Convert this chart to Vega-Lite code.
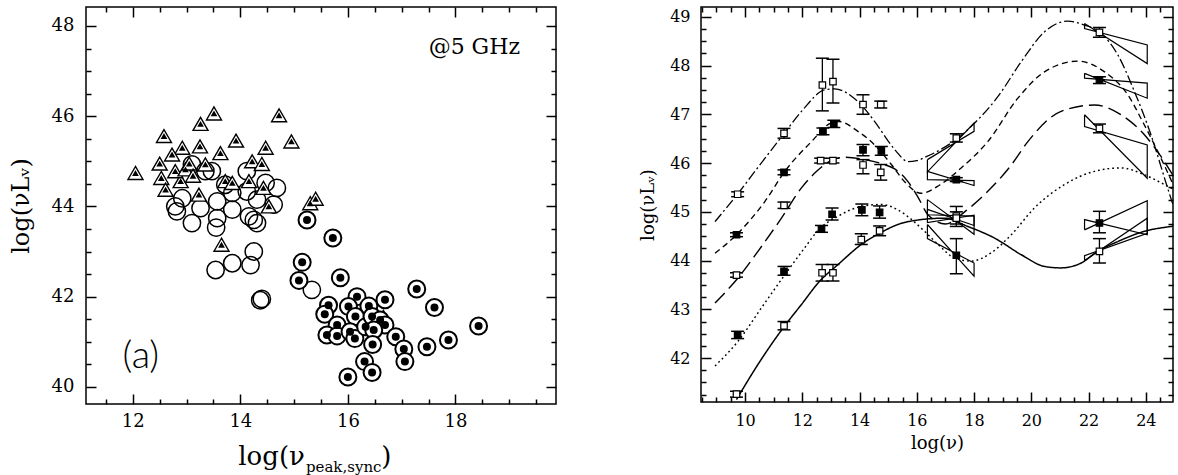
{
"$schema": "https://vega.github.io/schema/vega-lite/v6.json",
"padding": {"left": 8, "top": 5, "right": 0, "bottom": 0},
"background": "white",
"spacing": 80,
"config": {
  "view": {"stroke": "black", "strokeWidth": 1.5},
  "axis": {"domain": false, "grid": false, "tickColor": "black", "tickWidth": 1.5, "labelColor": "black", "titleColor": "black", "labelFont": "DejaVu Serif", "titleFont": "DejaVu Serif", "titleFontWeight": "normal", "labelOverlap": false}
},
"datasets": {
  "tri": [{"x":12.05,"y":44.74},{"x":12.58,"y":45.56},{"x":12.50,"y":44.95},{"x":13.26,"y":45.83},{"x":13.51,"y":46.06},{"x":13.25,"y":45.33},{"x":12.92,"y":45.30},{"x":12.73,"y":45.15},{"x":13.63,"y":45.18},{"x":13.92,"y":45.46},{"x":14.47,"y":45.30},{"x":14.72,"y":46.02},{"x":14.95,"y":45.44},{"x":14.22,"y":45.00},{"x":14.40,"y":44.94},{"x":12.53,"y":44.63},{"x":12.61,"y":44.37},{"x":12.89,"y":44.56},{"x":13.35,"y":44.93},{"x":13.23,"y":44.26},{"x":13.72,"y":44.56},{"x":13.85,"y":44.52},{"x":14.16,"y":44.56},{"x":14.43,"y":44.41},{"x":14.53,"y":44.00},{"x":15.30,"y":44.07},{"x":15.40,"y":44.17},{"x":12.79,"y":44.78},{"x":12.98,"y":44.82},{"x":13.65,"y":43.15},{"x":13.05,"y":44.95},{"x":13.12,"y":44.68},{"x":16.52,"y":41.60},{"x":16.66,"y":41.55}],
  "circ": [{"x":13.10,"y":44.93},{"x":13.47,"y":44.78},{"x":12.92,"y":44.18},{"x":12.82,"y":43.89},{"x":13.10,"y":43.63},{"x":13.26,"y":43.96},{"x":13.57,"y":44.11},{"x":13.57,"y":43.74},{"x":13.55,"y":43.53},{"x":13.85,"y":43.93},{"x":13.85,"y":44.30},{"x":13.72,"y":44.48},{"x":14.12,"y":44.78},{"x":14.12,"y":44.33},{"x":14.31,"y":44.15},{"x":14.16,"y":43.78},{"x":14.25,"y":43.70},{"x":14.31,"y":43.63},{"x":14.47,"y":44.52},{"x":14.68,"y":44.41},{"x":14.62,"y":44.04},{"x":12.79,"y":44.00},{"x":13.35,"y":44.78},{"x":13.54,"y":42.59},{"x":13.85,"y":42.74},{"x":14.19,"y":42.70},{"x":14.25,"y":43.00},{"x":14.37,"y":41.92},{"x":14.40,"y":41.95},{"x":15.33,"y":42.15}],
  "dot": [{"x":15.24,"y":43.70},{"x":15.72,"y":43.30},{"x":15.15,"y":42.76},{"x":15.09,"y":42.36},{"x":15.86,"y":42.42},{"x":17.28,"y":42.17},{"x":17.61,"y":41.76},{"x":17.87,"y":41.04},{"x":17.47,"y":40.89},{"x":16.17,"y":42.00},{"x":16.69,"y":41.93},{"x":15.64,"y":41.81},{"x":15.57,"y":41.61},{"x":16.01,"y":41.78},{"x":16.39,"y":41.79},{"x":16.14,"y":41.56},{"x":15.80,"y":41.37},{"x":15.61,"y":41.15},{"x":15.80,"y":41.13},{"x":16.04,"y":41.22},{"x":16.13,"y":41.07},{"x":16.33,"y":41.33},{"x":16.45,"y":41.56},{"x":16.60,"y":41.48},{"x":16.69,"y":41.37},{"x":16.48,"y":41.26},{"x":16.46,"y":40.94},{"x":16.89,"y":41.11},{"x":17.04,"y":40.84},{"x":17.06,"y":40.56},{"x":16.31,"y":40.56},{"x":16.45,"y":40.32},{"x":16.00,"y":40.22},{"x":18.43,"y":41.35}],
  "curves": [
    {"c":"c1","x":8.95,"y":44.80},{"c":"c1","x":9.76,"y":45.38},{"c":"c1","x":10.5,"y":45.95},{"c":"c1","x":11.33,"y":46.58},{"c":"c1","x":12.0,"y":47.08},{"c":"c1","x":12.78,"y":47.50},{"c":"c1","x":13.13,"y":47.52},{"c":"c1","x":13.94,"y":47.26},{"c":"c1","x":14.53,"y":46.85},{"c":"c1","x":15.0,"y":46.45},{"c":"c1","x":15.28,"y":46.24},{"c":"c1","x":15.69,"y":46.03},{"c":"c1","x":16.0,"y":46.05},{"c":"c1","x":16.33,"y":46.13},{"c":"c1","x":16.9,"y":46.30},{"c":"c1","x":17.43,"y":46.51},{"c":"c1","x":18.02,"y":46.82},{"c":"c1","x":18.83,"y":47.36},{"c":"c1","x":19.65,"y":48.08},{"c":"c1","x":20.46,"y":48.69},{"c":"c1","x":21.27,"y":48.91},{"c":"c1","x":21.86,"y":48.83},{"c":"c1","x":22.44,"y":48.66},{"c":"c1","x":23.02,"y":48.22},{"c":"c1","x":23.60,"y":47.47},{"c":"c1","x":24.18,"y":46.58},{"c":"c1","x":24.76,"y":45.49},{"c":"c1","x":25.0,"y":45.05},
    {"c":"c2","x":8.95,"y":44.15},{"c":"c2","x":9.7,"y":44.53},{"c":"c2","x":10.69,"y":45.21},{"c":"c2","x":11.39,"y":45.83},{"c":"c2","x":12.32,"y":46.44},{"c":"c2","x":13.0,"y":46.82},{"c":"c2","x":13.3,"y":46.85},{"c":"c2","x":13.94,"y":46.65},{"c":"c2","x":14.53,"y":46.37},{"c":"c2","x":15.11,"y":45.97},{"c":"c2","x":15.6,"y":45.60},{"c":"c2","x":16.15,"y":45.38},{"c":"c2","x":16.8,"y":45.55},{"c":"c2","x":17.55,"y":45.90},{"c":"c2","x":18.48,"y":46.44},{"c":"c2","x":19.53,"y":47.33},{"c":"c2","x":20.46,"y":47.87},{"c":"c2","x":21.62,"y":48.09},{"c":"c2","x":22.56,"y":47.87},{"c":"c2","x":23.37,"y":47.40},{"c":"c2","x":23.95,"y":46.78},{"c":"c2","x":24.53,"y":46.10},{"c":"c2","x":25.0,"y":45.50},
    {"c":"c3","x":8.95,"y":43.13},{"c":"c3","x":9.76,"y":43.65},{"c":"c3","x":10.45,"y":44.19},{"c":"c3","x":11.27,"y":44.87},{"c":"c3","x":11.97,"y":45.49},{"c":"c3","x":12.5,"y":45.83},{"c":"c3","x":13.0,"y":46.05},{"c":"c3","x":13.5,"y":46.12},{"c":"c3","x":14.2,"y":46.07},{"c":"c3","x":14.8,"y":45.98},{"c":"c3","x":15.3,"y":45.85},{"c":"c3","x":15.69,"y":45.62},{"c":"c3","x":16.04,"y":45.30},{"c":"c3","x":16.39,"y":44.94},{"c":"c3","x":17.0,"y":44.75},{"c":"c3","x":17.67,"y":45.00},{"c":"c3","x":18.48,"y":45.42},{"c":"c3","x":19.30,"y":45.96},{"c":"c3","x":19.88,"y":46.44},{"c":"c3","x":21.04,"y":47.06},{"c":"c3","x":22.21,"y":47.19},{"c":"c3","x":23.14,"y":46.99},{"c":"c3","x":23.95,"y":46.58},{"c":"c3","x":24.65,"y":46.03},{"c":"c3","x":25.0,"y":45.70},
    {"c":"c4","x":8.95,"y":41.84},{"c":"c4","x":9.76,"y":42.35},{"c":"c4","x":10.57,"y":43.03},{"c":"c4","x":11.39,"y":43.71},{"c":"c4","x":12.08,"y":44.26},{"c":"c4","x":12.55,"y":44.62},{"c":"c4","x":13.25,"y":44.91},{"c":"c4","x":14.06,"y":45.11},{"c":"c4","x":14.76,"y":45.15},{"c":"c4","x":15.34,"y":45.04},{"c":"c4","x":15.8,"y":44.85},{"c":"c4","x":16.27,"y":44.60},{"c":"c4","x":16.8,"y":44.30},{"c":"c4","x":17.32,"y":44.05},{"c":"c4","x":17.9,"y":43.99},{"c":"c4","x":18.6,"y":44.16},{"c":"c4","x":19.3,"y":44.53},{"c":"c4","x":20.11,"y":45.08},{"c":"c4","x":21.16,"y":45.56},{"c":"c4","x":22.21,"y":45.83},{"c":"c4","x":23.14,"y":45.90},{"c":"c4","x":23.95,"y":45.76},{"c":"c4","x":24.65,"y":45.56},{"c":"c4","x":25.0,"y":45.45},
    {"c":"c5","x":9.7,"y":41.15},{"c":"c5","x":10.45,"y":41.87},{"c":"c5","x":11.33,"y":42.62},{"c":"c5","x":11.97,"y":43.10},{"c":"c5","x":12.61,"y":43.58},{"c":"c5","x":13.25,"y":43.92},{"c":"c5","x":14.06,"y":44.33},{"c":"c5","x":14.76,"y":44.58},{"c":"c5","x":15.34,"y":44.74},{"c":"c5","x":16.15,"y":44.84},{"c":"c5","x":16.97,"y":44.87},{"c":"c5","x":17.78,"y":44.70},{"c":"c5","x":18.72,"y":44.46},{"c":"c5","x":19.65,"y":44.12},{"c":"c5","x":20.46,"y":43.88},{"c":"c5","x":21.04,"y":43.85},{"c":"c5","x":21.74,"y":43.95},{"c":"c5","x":22.32,"y":44.19},{"c":"c5","x":23.02,"y":44.39},{"c":"c5","x":23.95,"y":44.60},{"c":"c5","x":24.88,"y":44.70},{"c":"c5","x":25.0,"y":44.71}
  ],
  "bow": [
    {"b":"x1","o":1,"x":16.37,"y":46.07},{"b":"x1","o":2,"x":18.0,"y":46.65},{"b":"x1","o":3,"x":18.0,"y":46.82},{"b":"x1","o":4,"x":16.37,"y":45.82},{"b":"x1","o":5,"x":16.37,"y":46.07},
    {"b":"x2","o":1,"x":16.37,"y":45.83},{"b":"x2","o":2,"x":18.0,"y":45.54},{"b":"x2","o":3,"x":18.0,"y":45.64},{"b":"x2","o":4,"x":16.37,"y":45.66},{"b":"x2","o":5,"x":16.37,"y":45.83},
    {"b":"x3","o":1,"x":16.37,"y":45.25},{"b":"x3","o":2,"x":18.0,"y":44.54},{"b":"x3","o":3,"x":18.0,"y":44.91},{"b":"x3","o":4,"x":16.37,"y":44.94},{"b":"x3","o":5,"x":16.37,"y":45.25},
    {"b":"x4","o":1,"x":16.37,"y":44.74},{"b":"x4","o":2,"x":18.0,"y":43.68},{"b":"x4","o":3,"x":18.0,"y":43.95},{"b":"x4","o":4,"x":16.37,"y":44.45},{"b":"x4","o":5,"x":16.37,"y":44.74},
    {"b":"x5","o":1,"x":16.37,"y":45.05},{"b":"x5","o":2,"x":18.0,"y":44.72},{"b":"x5","o":3,"x":18.0,"y":44.93},{"b":"x5","o":4,"x":16.37,"y":44.78},{"b":"x5","o":5,"x":16.37,"y":45.05},
    {"b":"g1","o":1,"x":21.86,"y":48.86},{"b":"g1","o":2,"x":24.05,"y":48.04},{"b":"g1","o":3,"x":24.05,"y":48.42},{"b":"g1","o":4,"x":21.86,"y":48.76},{"b":"g1","o":5,"x":21.86,"y":48.86},
    {"b":"g2","o":1,"x":21.86,"y":47.84},{"b":"g2","o":2,"x":24.05,"y":47.33},{"b":"g2","o":3,"x":24.05,"y":47.64},{"b":"g2","o":4,"x":21.86,"y":47.74},{"b":"g2","o":5,"x":21.86,"y":47.84},
    {"b":"g3","o":1,"x":21.86,"y":46.99},{"b":"g3","o":2,"x":24.05,"y":45.69},{"b":"g3","o":3,"x":24.05,"y":46.37},{"b":"g3","o":4,"x":21.86,"y":46.75},{"b":"g3","o":5,"x":21.86,"y":46.99},
    {"b":"g4","o":1,"x":21.86,"y":44.63},{"b":"g4","o":2,"x":24.05,"y":45.23},{"b":"g4","o":3,"x":24.05,"y":44.53},{"b":"g4","o":4,"x":21.86,"y":44.84},{"b":"g4","o":5,"x":21.86,"y":44.63},
    {"b":"g5","o":1,"x":21.86,"y":44.00},{"b":"g5","o":2,"x":24.05,"y":44.87},{"b":"g5","o":3,"x":24.05,"y":44.56},{"b":"g5","o":4,"x":21.86,"y":44.10},{"b":"g5","o":5,"x":21.86,"y":44.00}
  ],
  "pts": [
    {"f":"o","x":9.74,"y":45.36,"lo":45.31,"hi":45.41},{"f":"o","x":11.36,"y":46.61,"lo":46.51,"hi":46.71},{"f":"o","x":12.70,"y":47.60,"lo":47.07,"hi":48.15},{"f":"o","x":13.07,"y":47.67,"lo":47.23,"hi":48.13},{"f":"o","x":14.12,"y":47.20,"lo":47.00,"hi":47.40},{"f":"o","x":14.74,"y":47.20,"lo":47.13,"hi":47.27},{"f":"o","x":17.38,"y":46.51,"lo":46.43,"hi":46.60},{"f":"o","x":22.38,"y":48.68,"lo":48.58,"hi":48.78},
    {"f":"o","x":9.70,"y":43.70,"lo":43.66,"hi":43.75},{"f":"o","x":11.36,"y":45.13,"lo":45.07,"hi":45.20},{"f":"o","x":12.64,"y":46.05,"lo":46.00,"hi":46.10},{"f":"o","x":13.07,"y":46.05,"lo":46.00,"hi":46.10},{"f":"o","x":14.12,"y":45.96,"lo":45.78,"hi":46.07},{"f":"o","x":14.74,"y":45.81,"lo":45.65,"hi":45.97},{"f":"o","x":17.38,"y":44.91,"lo":44.70,"hi":45.11},{"f":"o","x":22.38,"y":46.71,"lo":46.62,"hi":46.80},
    {"f":"o","x":9.70,"y":41.26,"lo":41.20,"hi":41.32},{"f":"o","x":11.36,"y":42.66,"lo":42.58,"hi":42.75},{"f":"o","x":12.69,"y":43.75,"lo":43.58,"hi":43.92},{"f":"o","x":13.07,"y":43.75,"lo":43.58,"hi":43.92},{"f":"o","x":14.06,"y":44.43,"lo":44.33,"hi":44.55},{"f":"o","x":14.70,"y":44.61,"lo":44.51,"hi":44.71},{"f":"o","x":17.38,"y":44.87,"lo":44.75,"hi":45.00},{"f":"o","x":22.38,"y":44.19,"lo":43.95,"hi":44.45},
    {"f":"f","x":9.70,"y":44.53,"lo":44.49,"hi":44.57},{"f":"f","x":11.36,"y":45.81,"lo":45.76,"hi":45.86},{"f":"f","x":12.72,"y":46.65,"lo":46.58,"hi":46.72},{"f":"f","x":13.10,"y":46.80,"lo":46.73,"hi":46.88},{"f":"f","x":14.12,"y":46.27,"lo":46.15,"hi":46.38},{"f":"f","x":14.76,"y":46.25,"lo":46.16,"hi":46.34},{"f":"f","x":17.38,"y":45.66,"lo":45.62,"hi":45.70},{"f":"f","x":22.38,"y":47.70,"lo":47.63,"hi":47.77},
    {"f":"f","x":9.74,"y":42.47,"lo":42.40,"hi":42.55},{"f":"f","x":11.36,"y":43.78,"lo":43.70,"hi":43.88},{"f":"f","x":12.67,"y":44.65,"lo":44.58,"hi":44.72},{"f":"f","x":13.04,"y":44.95,"lo":44.83,"hi":45.08},{"f":"f","x":14.08,"y":45.04,"lo":44.92,"hi":45.16},{"f":"f","x":14.70,"y":44.99,"lo":44.87,"hi":45.12},{"f":"f","x":17.38,"y":44.11,"lo":43.73,"hi":44.45},{"f":"f","x":22.38,"y":44.77,"lo":44.57,"hi":45.01}
  ]
},
"hconcat": [
  {
    "width": 470, "height": 397,
    "resolve": {"axis": {"x": "independent", "y": "independent"}},
    "layer": [
      {"data": {"name": "circ"},
       "mark": {"type": "point", "shape": "circle", "size": 300, "filled": false, "stroke": "black", "strokeWidth": 1.5, "opacity": 1},
       "encoding": {
         "x": {"field": "x", "type": "quantitative", "scale": {"domain": [11.13, 19.87], "nice": false, "zero": false},
               "axis": {"orient": "bottom", "values": [12,14,16,18], "tickSize": -10, "labelPadding": 18, "labelFontSize": 18, "title": null}},
         "y": {"field": "y", "type": "quantitative", "scale": {"domain": [39.62, 48.42], "nice": false, "zero": false},
               "axis": {"orient": "left", "values": [40,42,44,46,48], "tickSize": -10, "labelPadding": 22, "labelFontSize": 18, "title": "log(νLᵥ)", "titleFontSize": 24, "titlePadding": 18}}
       }},
      {"data": {"name": "tri"},
       "mark": {"type": "point", "shape": "triangle-up", "size": 225, "filled": true, "fill": "white", "stroke": "black", "strokeWidth": 1.4, "opacity": 1},
       "encoding": {
         "x": {"field": "x", "type": "quantitative", "scale": {"domain": [11.13, 19.87], "nice": false, "zero": false},
               "axis": {"orient": "bottom", "values": [11.5,12.5,13,13.5,14.5,15,15.5,16.5,17,17.5,18.5,19,19.5], "tickSize": -5, "labels": false, "title": null}},
         "y": {"field": "y", "type": "quantitative", "scale": {"domain": [39.62, 48.42], "nice": false, "zero": false},
               "axis": {"orient": "left", "values": [40.5,41,41.5,42.5,43,43.5,44.5,45,45.5,46.5,47,47.5], "tickSize": -5, "labels": false, "title": null}}
       }},
      {"data": {"name": "tri"},
       "mark": {"type": "point", "shape": "triangle-up", "size": 45, "filled": true, "color": "black", "opacity": 1},
       "encoding": {
         "x": {"field": "x", "type": "quantitative", "scale": {"domain": [11.13, 19.87], "nice": false, "zero": false},
               "axis": {"orient": "top", "values": [12,14,16,18], "tickSize": -10, "labels": false, "title": null}},
         "y": {"field": "y", "type": "quantitative", "scale": {"domain": [39.62, 48.42], "nice": false, "zero": false},
               "axis": {"orient": "right", "values": [40,42,44,46,48], "tickSize": -10, "labels": false, "title": null}}
       }},
      {"data": {"name": "dot"},
       "mark": {"type": "point", "shape": "circle", "size": 289, "filled": true, "fill": "white", "stroke": "black", "strokeWidth": 2, "opacity": 1},
       "encoding": {
         "x": {"field": "x", "type": "quantitative", "scale": {"domain": [11.13, 19.87], "nice": false, "zero": false},
               "axis": {"orient": "top", "values": [11.5,12.5,13,13.5,14.5,15,15.5,16.5,17,17.5,18.5,19,19.5], "tickSize": -5, "labels": false, "title": null}},
         "y": {"field": "y", "type": "quantitative", "scale": {"domain": [39.62, 48.42], "nice": false, "zero": false},
               "axis": {"orient": "right", "values": [40.5,41,41.5,42.5,43,43.5,44.5,45,45.5,46.5,47,47.5], "tickSize": -5, "labels": false, "title": null}}
       }},
      {"data": {"name": "dot"},
       "mark": {"type": "point", "shape": "circle", "size": 64, "filled": true, "color": "black", "opacity": 1},
       "encoding": {
         "x": {"field": "x", "type": "quantitative", "scale": {"domain": [11.13, 19.87], "nice": false, "zero": false}, "axis": null},
         "y": {"field": "y", "type": "quantitative", "scale": {"domain": [39.62, 48.42], "nice": false, "zero": false}, "axis": null}
       }},
      {"data": {"values": [{"t": "@5 GHz", "x": 19.2, "y": 47.53}]},
       "mark": {"type": "text", "align": "right", "baseline": "middle", "font": "DejaVu Serif", "fontSize": 22, "color": "black"},
       "encoding": {
         "x": {"field": "x", "type": "quantitative", "scale": {"domain": [11.13, 19.87], "nice": false, "zero": false}, "axis": null},
         "y": {"field": "y", "type": "quantitative", "scale": {"domain": [39.62, 48.42], "nice": false, "zero": false}, "axis": null},
         "text": {"field": "t"}
       }},
      {"data": {"values": [{"t": "(a)", "x": 12.15, "y": 40.67}]},
       "mark": {"type": "text", "align": "center", "baseline": "middle", "font": "Lato", "fontWeight": 300, "fontSize": 38, "color": "black"},
       "encoding": {
         "x": {"field": "x", "type": "quantitative", "scale": {"domain": [11.13, 19.87], "nice": false, "zero": false}, "axis": null},
         "y": {"field": "y", "type": "quantitative", "scale": {"domain": [39.62, 48.42], "nice": false, "zero": false}, "axis": null},
         "text": {"field": "t"}
       }},
      {"data": {"values": [{"t": "log(ν", "x": 15.2, "y": 38.27}]},
       "mark": {"type": "text", "align": "right", "baseline": "alphabetic", "font": "DejaVu Serif", "fontSize": 26, "color": "black"},
       "encoding": {
         "x": {"field": "x", "type": "quantitative", "scale": {"domain": [11.13, 19.87], "nice": false, "zero": false}, "axis": null},
         "y": {"field": "y", "type": "quantitative", "scale": {"domain": [39.62, 48.42], "nice": false, "zero": false}, "axis": null},
         "text": {"field": "t"}
       }},
      {"data": {"values": [{"t": "peak,sync", "x": 15.22, "y": 38.11}]},
       "mark": {"type": "text", "align": "left", "baseline": "alphabetic", "font": "DejaVu Serif", "fontSize": 15, "color": "black"},
       "encoding": {
         "x": {"field": "x", "type": "quantitative", "scale": {"domain": [11.13, 19.87], "nice": false, "zero": false}, "axis": null},
         "y": {"field": "y", "type": "quantitative", "scale": {"domain": [39.62, 48.42], "nice": false, "zero": false}, "axis": null},
         "text": {"field": "t"}
       }},
      {"data": {"values": [{"t": ")", "x": 16.62, "y": 38.27}]},
       "mark": {"type": "text", "align": "left", "baseline": "alphabetic", "font": "DejaVu Serif", "fontSize": 26, "color": "black"},
       "encoding": {
         "x": {"field": "x", "type": "quantitative", "scale": {"domain": [11.13, 19.87], "nice": false, "zero": false}, "axis": null},
         "y": {"field": "y", "type": "quantitative", "scale": {"domain": [39.62, 48.42], "nice": false, "zero": false}, "axis": null},
         "text": {"field": "t"}
       }}
    ]
  },
  {
    "width": 472, "height": 395,
    "resolve": {"axis": {"x": "independent", "y": "independent"}},
    "layer": [
      {"data": {"name": "curves"},
       "mark": {"type": "line", "interpolate": "monotone", "color": "black", "clip": true},
       "encoding": {
         "x": {"field": "x", "type": "quantitative", "scale": {"domain": [8.46, 24.95], "nice": false, "zero": false},
               "axis": {"orient": "bottom", "values": [10,12,14,16,18,20,22,24], "tickSize": -10, "labelPadding": 20, "labelFontSize": 16, "title": "log(ν)", "titleFontSize": 18, "titlePadding": 6}},
         "y": {"field": "y", "type": "quantitative", "scale": {"domain": [41.1, 49.2], "nice": false, "zero": false},
               "axis": {"orient": "left", "values": [42,43,44,45,46,47,48,49], "tickSize": -10, "labelPadding": 21, "labelFontSize": 16, "title": "log(νLᵥ)", "titleFontSize": 18, "titlePadding": 12}},
         "detail": {"field": "c"},
         "strokeDash": {"field": "c", "type": "nominal", "legend": null,
                        "scale": {"domain": ["c1","c2","c3","c4","c5"], "range": [[10,3,2,3],[6,4],[14,6],[1.8,3],[1,0]]}},
         "strokeWidth": {"field": "c", "type": "nominal", "legend": null,
                        "scale": {"domain": ["c1","c2","c3","c4","c5"], "range": [1.3,1.5,1.5,1.9,1.3]}}
       }},
      {"data": {"name": "bow"},
       "mark": {"type": "line", "color": "black", "strokeWidth": 1.2},
       "encoding": {
         "x": {"field": "x", "type": "quantitative", "scale": {"domain": [8.46, 24.95], "nice": false, "zero": false},
               "axis": {"orient": "bottom", "values": [8.5,9,9.5,10.5,11,11.5,12.5,13,13.5,14.5,15,15.5,16.5,17,17.5,18.5,19,19.5,20.5,21,21.5,22.5,23,23.5,24.5], "tickSize": -5, "labels": false, "title": null}},
         "y": {"field": "y", "type": "quantitative", "scale": {"domain": [41.1, 49.2], "nice": false, "zero": false},
               "axis": {"orient": "left", "values": [41.25,41.5,41.75,42.25,42.5,42.75,43.25,43.5,43.75,44.25,44.5,44.75,45.25,45.5,45.75,46.25,46.5,46.75,47.25,47.5,47.75,48.25,48.5,48.75], "tickSize": -5, "labels": false, "title": null}},
         "detail": {"field": "b"},
         "order": {"field": "o", "type": "quantitative"}
       }},
      {"data": {"name": "pts"},
       "mark": {"type": "rule", "color": "black", "strokeWidth": 1.3},
       "encoding": {
         "x": {"field": "x", "type": "quantitative", "scale": {"domain": [8.46, 24.95], "nice": false, "zero": false},
               "axis": {"orient": "top", "values": [10,12,14,16,18,20,22,24], "tickSize": -10, "labels": false, "title": null}},
         "y": {"field": "lo", "type": "quantitative", "scale": {"domain": [41.1, 49.2], "nice": false, "zero": false},
               "axis": {"orient": "right", "values": [42,43,44,45,46,47,48,49], "tickSize": -10, "labels": false, "title": null}},
         "y2": {"field": "hi"}
       }},
      {"data": {"name": "pts"},
       "mark": {"type": "tick", "orient": "horizontal", "size": 13, "thickness": 1.5, "color": "black", "opacity": 1},
       "encoding": {
         "x": {"field": "x", "type": "quantitative", "scale": {"domain": [8.46, 24.95], "nice": false, "zero": false},
               "axis": {"orient": "top", "values": [8.5,9,9.5,10.5,11,11.5,12.5,13,13.5,14.5,15,15.5,16.5,17,17.5,18.5,19,19.5,20.5,21,21.5,22.5,23,23.5,24.5], "tickSize": -5, "labels": false, "title": null}},
         "y": {"field": "lo", "type": "quantitative", "scale": {"domain": [41.1, 49.2], "nice": false, "zero": false},
               "axis": {"orient": "right", "values": [41.25,41.5,41.75,42.25,42.5,42.75,43.25,43.5,43.75,44.25,44.5,44.75,45.25,45.5,45.75,46.25,46.5,46.75,47.25,47.5,47.75,48.25,48.5,48.75], "tickSize": -5, "labels": false, "title": null}}
       }},
      {"data": {"name": "pts"},
       "mark": {"type": "tick", "orient": "horizontal", "size": 13, "thickness": 1.5, "color": "black", "opacity": 1},
       "encoding": {
         "x": {"field": "x", "type": "quantitative", "scale": {"domain": [8.46, 24.95], "nice": false, "zero": false}, "axis": null},
         "y": {"field": "hi", "type": "quantitative", "scale": {"domain": [41.1, 49.2], "nice": false, "zero": false}, "axis": null}
       }},
      {"data": {"name": "pts"},
       "mark": {"type": "point", "shape": "square", "size": 42, "filled": true, "stroke": "black", "strokeWidth": 1.2, "opacity": 1},
       "encoding": {
         "x": {"field": "x", "type": "quantitative", "scale": {"domain": [8.46, 24.95], "nice": false, "zero": false}, "axis": null},
         "y": {"field": "y", "type": "quantitative", "scale": {"domain": [41.1, 49.2], "nice": false, "zero": false}, "axis": null},
         "fill": {"field": "f", "type": "nominal", "legend": null, "scale": {"domain": ["o","f"], "range": ["white","black"]}}
       }}
    ]
  }
]
}
